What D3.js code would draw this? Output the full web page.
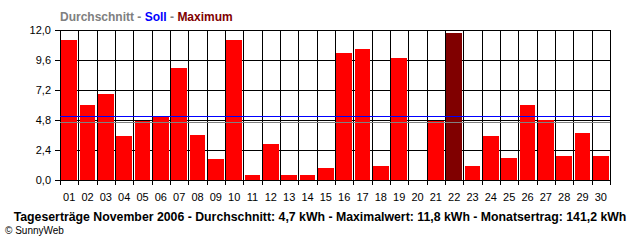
<!DOCTYPE html>
<html>
<head>
<meta charset="utf-8">
<script src="https://cdn.jsdelivr.net/npm/d3@7"></script>
<style>
body { margin: 0; background: #fff; }
svg text { font-family: "Liberation Sans", Arial, sans-serif; }
svg line, svg rect { shape-rendering: crispEdges; }
</style>
</head>
<body>
<div class="content"></div>
<script>
// data
var days = d3.range(1, 31).map(function (d) { return d < 10 ? '0' + d : '' + d; });
var ertrag = [11.2, 6.0, 6.9, 3.5, 4.7, 5.1, 9.0, 3.6, 1.7, 11.2,
              0.4, 2.9, 0.4, 0.4, 1.0, 10.2, 10.5, 1.1, 9.8, 0.0,
              4.7, 11.8, 1.1, 3.5, 1.8, 6.0, 4.8, 1.9, 3.8, 1.9];
var durchschnitt = 4.7;
var soll = 5.15;
var yTicks = [0, 2.4, 4.8, 7.2, 9.6, 12.0];
var maxDay = '22';

var W = 640, H = 240;
var pLeft = 60, pRight = 610, pTop = 30, pBottom = 180;

var svg = d3.select('.content').append('svg')
  .attr('width', W)
  .attr('height', H);

var x = d3.scaleBand().domain(days).range([pLeft, pRight]).paddingInner(0.16).paddingOuter(0.08);
var xg = d3.scaleBand().domain(days).range([pLeft, pRight]);
var y = d3.scaleLinear().domain([0, 12]).range([pBottom, pTop]);

// title
var title = svg.append('text')
  .attr('x', 60).attr('y', 21)
  .style('font-size', '12px').style('font-weight', 'bold');
title.append('tspan').attr('fill', '#808080').text('Durchschnitt');
title.append('tspan').attr('fill', '#808080').text(' - ');
title.append('tspan').attr('fill', '#0000ff').text('Soll');
title.append('tspan').attr('fill', '#808080').text(' - ');
title.append('tspan').attr('fill', '#800000').text('Maximum');

// horizontal grid
svg.append('g').selectAll('line').data(yTicks).enter().append('line')
  .attr('x1', pLeft - 5).attr('x2', pRight)
  .attr('y1', function (d) { return Math.round(y(d)) + 0.5; })
  .attr('y2', function (d) { return Math.round(y(d)) + 0.5; })
  .attr('stroke', '#000').attr('stroke-width', 1);

// vertical grid
var vx = days.map(function (d) { return xg(d); }).concat([pRight]);
svg.append('g').selectAll('line').data(vx).enter().append('line')
  .attr('x1', function (d) { return Math.round(d) + 0.5; })
  .attr('x2', function (d) { return Math.round(d) + 0.5; })
  .attr('y1', pTop).attr('y2', pBottom + 5)
  .attr('stroke', '#000').attr('stroke-width', 1);

// bars
svg.append('g').selectAll('rect').data(ertrag).enter().append('rect')
  .attr('x', function (d, i) { return x(days[i]); })
  .attr('width', x.bandwidth())
  .attr('y', function (d) { return y(d); })
  .attr('height', function (d) { return y(0) - y(d); })
  .attr('fill', function (d, i) { return days[i] === maxDay ? '#800000' : '#ff0000'; });

// soll + durchschnitt
svg.append('line')
  .attr('x1', pLeft).attr('x2', pRight)
  .attr('y1', Math.round(y(soll)) + 0.5).attr('y2', Math.round(y(soll)) + 0.5)
  .attr('stroke', '#0000ff').attr('stroke-width', 1);
svg.append('line')
  .attr('x1', pLeft).attr('x2', pRight)
  .attr('y1', Math.round(y(durchschnitt)) + 1.5).attr('y2', Math.round(y(durchschnitt)) + 1.5)
  .attr('stroke', '#808080').attr('stroke-width', 1);

// y labels
svg.append('g').selectAll('text').data(yTicks).enter().append('text')
  .attr('x', 51).attr('y', function (d) { return y(d) + 4; })
  .attr('text-anchor', 'end')
  .style('font-size', '11px')
  .text(function (d) { return d3.format('.1f')(d).replace('.', ','); });

// x labels
svg.append('g').selectAll('text').data(days).enter().append('text')
  .attr('x', function (d) { return xg(d) + xg.bandwidth() / 2; })
  .attr('y', 201)
  .attr('text-anchor', 'middle')
  .style('font-size', '11px')
  .text(function (d) { return d; });

// footer
svg.append('text')
  .attr('x', 320).attr('y', 221)
  .attr('text-anchor', 'middle')
  .style('font-size', '12.3px').style('font-weight', 'bold')
  .text('Tageserträge November 2006 - Durchschnitt: 4,7 kWh - Maximalwert: 11,8 kWh - Monatsertrag: 141,2 kWh');

svg.append('text')
  .attr('x', 5).attr('y', 234)
  .style('font-size', '10px')
  .text('© SunnyWeb');
</script>
</body>
</html>
